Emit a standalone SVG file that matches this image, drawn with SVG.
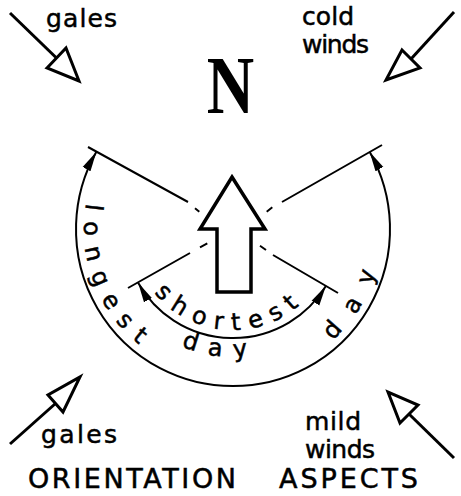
<svg xmlns="http://www.w3.org/2000/svg" width="461" height="496" viewBox="0 0 461 496">
<style>
.lbl{font-family:"DejaVu Sans",sans-serif;font-size:25px;fill:#000;stroke:#000;stroke-width:0.5}
.arc{font-family:"DejaVu Sans",sans-serif;font-size:24px;fill:#000;stroke:#000;stroke-width:0.5}
.ttl{font-family:"DejaVu Sans",sans-serif;font-size:27px;fill:#000;stroke:#000;stroke-width:0.5}
.wind{fill:none;stroke:#000;stroke-width:3}
.head{fill:#fff;stroke:#000;stroke-width:3;stroke-linejoin:miter}
.rad{stroke:#000;stroke-width:2;fill:none}
.span{stroke:#000;stroke-width:2;fill:none;marker-start:url(#ah);marker-end:url(#ah)}
</style>
<defs>
<marker id="ah" markerUnits="userSpaceOnUse" viewBox="0 0 21 10" markerWidth="21" markerHeight="10" refX="20" refY="5" orient="auto-start-reverse">
<path d="M0,0.5 L20,5 L0,9.5 Z" fill="#000"/>
</marker>
<path id="pOut" d="M93,178 A149,149 0 1 0 373,178"/>
<path id="pBot" d="M112.7,185.2 A128,128 0 1 0 353.3,185.2"/>
<path id="pIn" d="M138.1,194.5 A101,101 0 1 0 327.9,194.5"/>
</defs>
<rect width="461" height="496" fill="#fff"/>

<g id="connectors">
<path class="rad" d="M88,147 L188,202 M195,208.3 L199.3,211.7"/>
<path class="rad" d="M382,145 L282,202 M272.3,207.3 L266.7,211.7"/>
<path class="rad" d="M128,288 L190,253 M200,247.3 L207.3,243.3"/>
<path class="rad" d="M338,293 L273,255 M266,250 L260,245.7"/>
<path id="longest-span" class="span" d="M96.4,151.7 A157,157 0 1 0 369.6,151.7"/>
<path id="shortest-span" class="span" d="M138.1,282.7 A109,109 0 0 0 325.9,286"/>
</g>

<g id="wind-nw">
<line class="wind" x1="10" y1="13" x2="56.5" y2="58"/>
<polygon class="head" points="47,68 66,48 79,81"/>
<text class="lbl" x="46" y="27" textLength="71">gales</text>
</g>
<g id="wind-ne">
<line class="wind" x1="454" y1="12" x2="411" y2="59"/>
<polygon class="head" points="402,50 420,68 386,80"/>
<text class="lbl" x="302" y="25" textLength="52">cold</text>
<text class="lbl" x="302" y="53" textLength="67">winds</text>
</g>
<g id="wind-sw">
<line class="wind" x1="10" y1="444" x2="55.5" y2="403.5"/>
<polygon class="head" points="48,395 63,412 80,377"/>
<text class="lbl" x="41" y="443" textLength="76">gales</text>
</g>
<g id="wind-se">
<line class="wind" x1="454" y1="458" x2="409" y2="414"/>
<polygon class="head" points="400,423 418,405 388,392"/>
<text class="lbl" x="305" y="430" textLength="56">mild</text>
<text class="lbl" x="305" y="458" textLength="70">winds</text>
</g>

<g id="north">
<text transform="translate(230.5,113) scale(0.8,1)" x="0" y="0" text-anchor="middle" style="font-family:'Liberation Serif',serif;font-size:82px;font-weight:bold">N</text>
</g>
<g id="north-arrow">
<polygon points="232,177 265,229 251,229 251,292 217,292 217,229 200,229" fill="#fff" stroke="#000" stroke-width="3.5" stroke-linejoin="miter"/>
</g>

<g id="arc-labels">
<text class="arc" letter-spacing="11.6"><textPath href="#pOut" startOffset="26.2">longest</textPath></text>
<text class="arc" letter-spacing="11.8"><textPath href="#pBot" startOffset="192.6">day</textPath></text>
<text class="arc" letter-spacing="18.7"><textPath href="#pOut" startOffset="394.7">day</textPath></text>
<text class="arc" letter-spacing="9.14"><textPath href="#pIn" startOffset="103.8">shortest</textPath></text>
</g>

<g id="title">
<text class="ttl" x="28" y="488" textLength="208">ORIENTATION</text>
<text class="ttl" x="279" y="488" textLength="139">ASPECTS</text>
</g>
</svg>
